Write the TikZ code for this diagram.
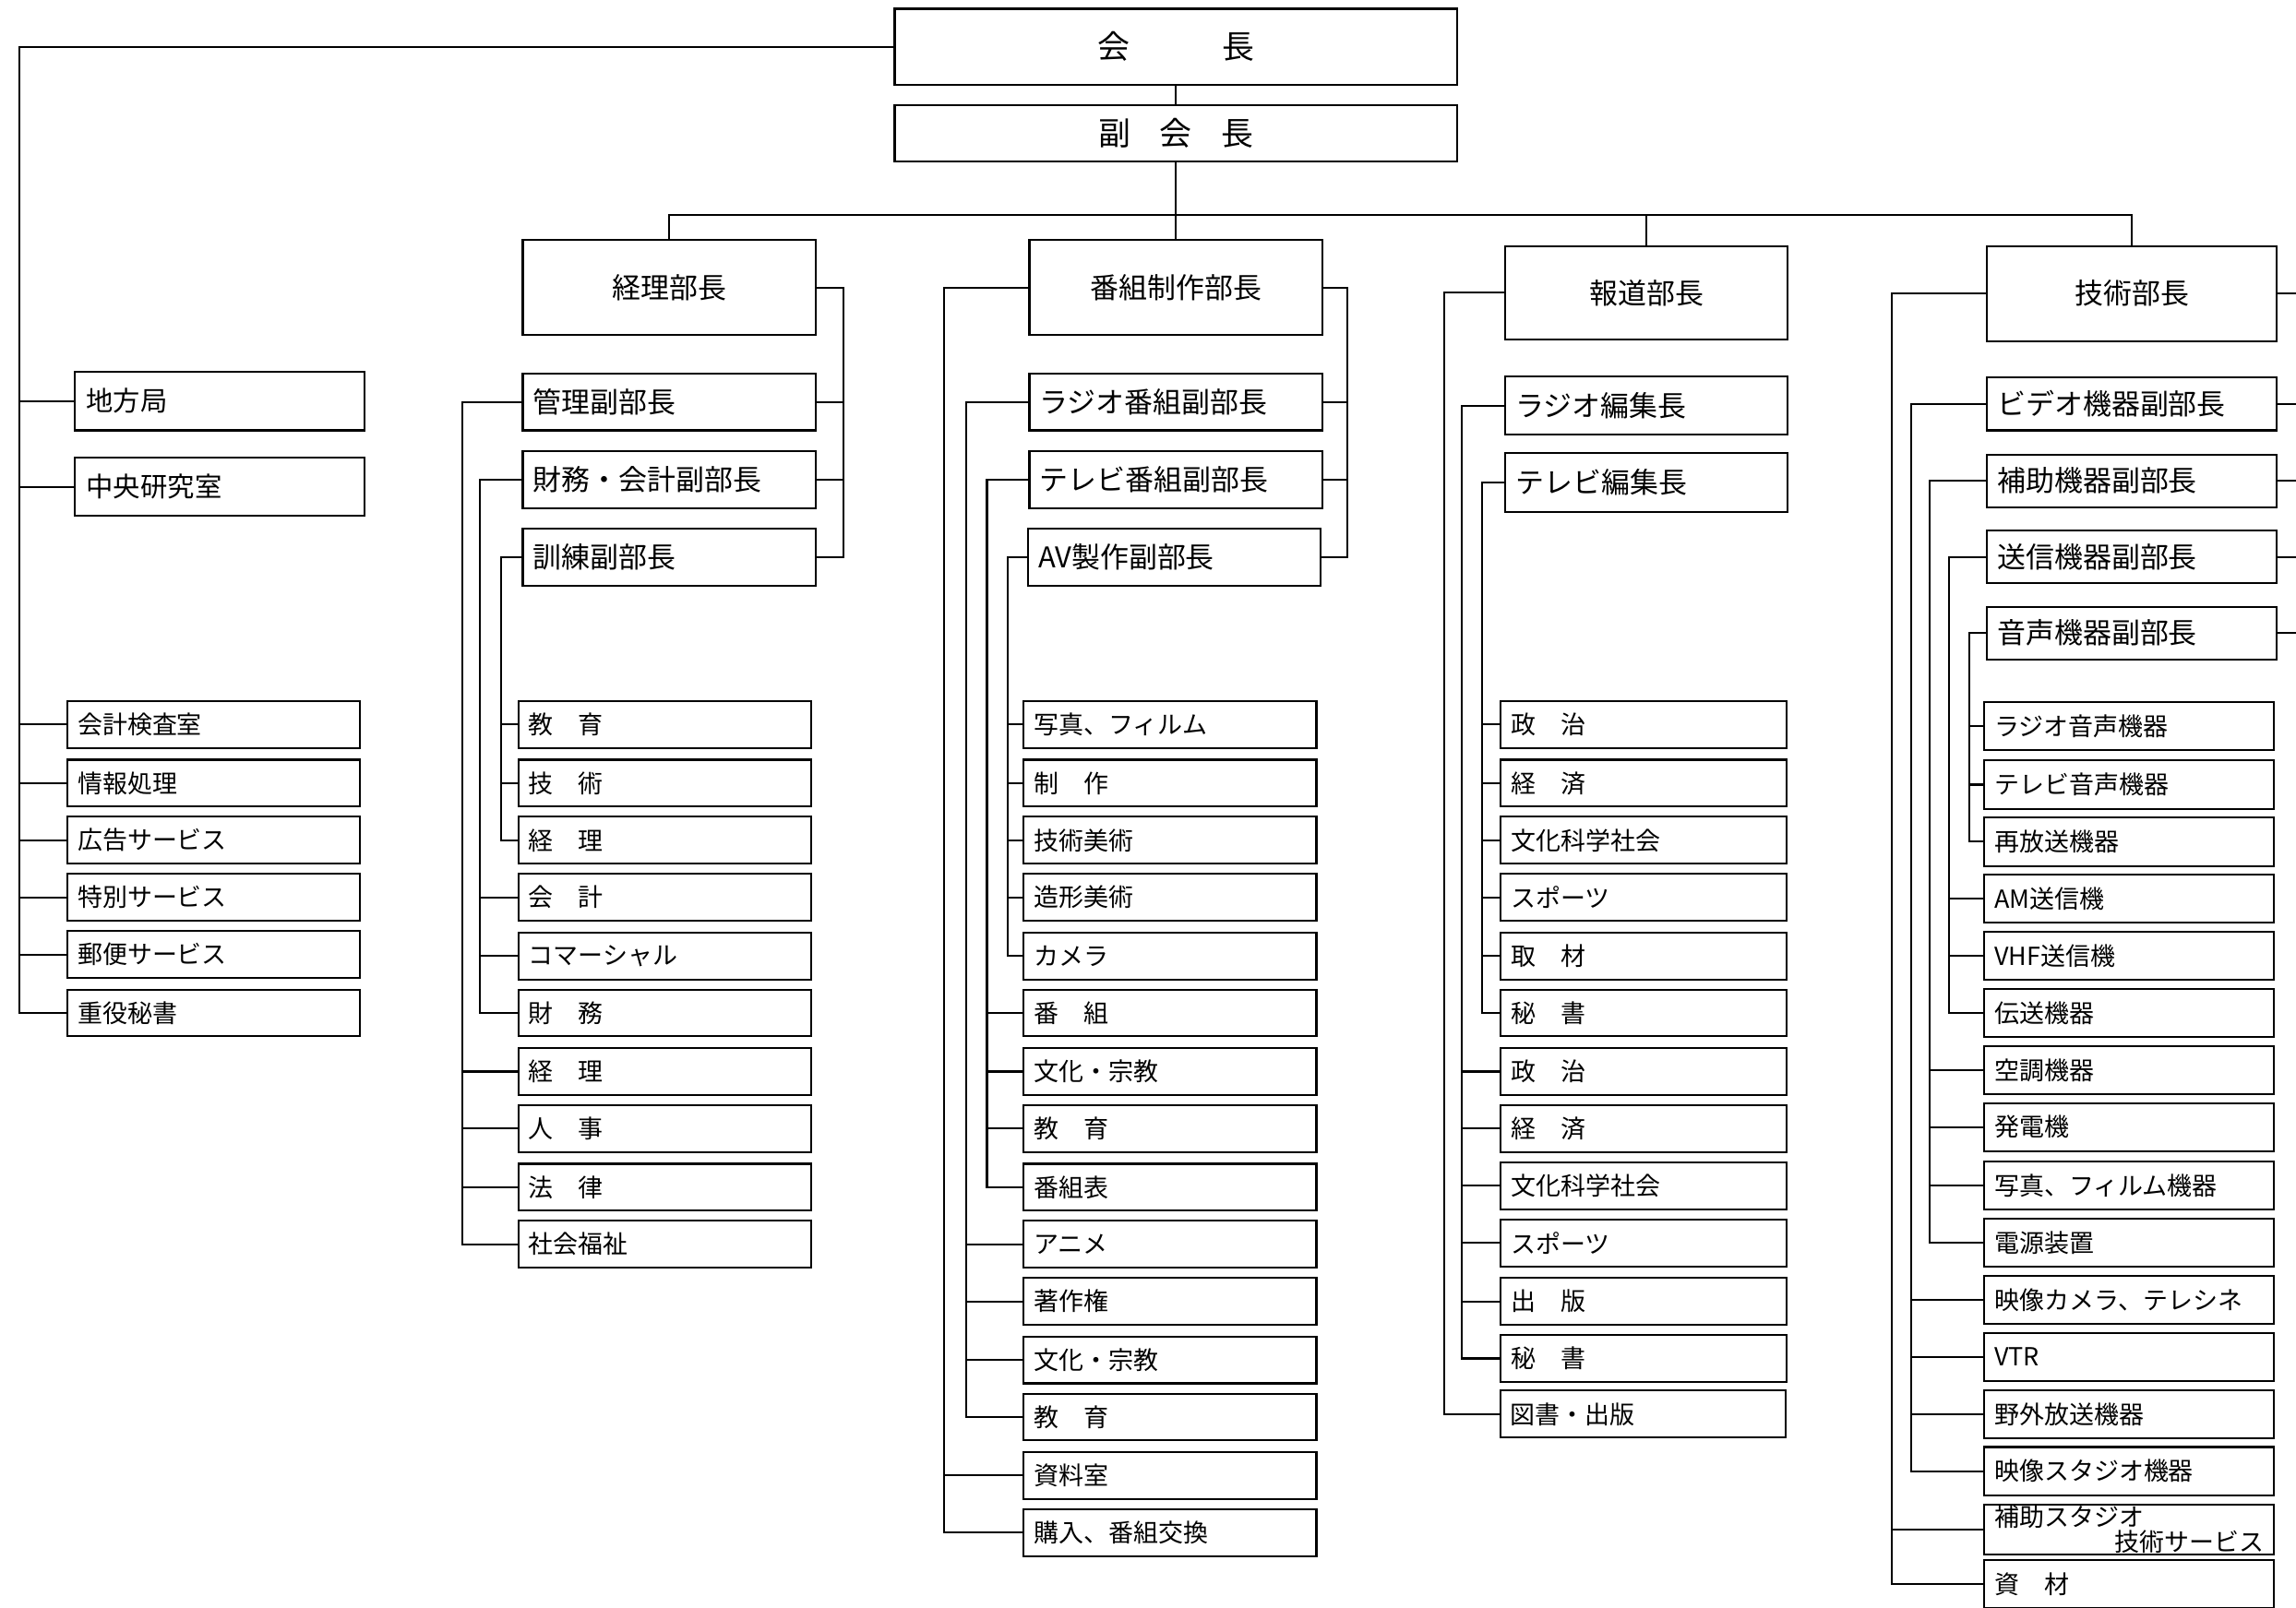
\documentclass[tikz,border=0pt]{standalone}
\usepackage{fontspec}
\setmainfont{Noto Sans CJK JP}
\newcommand{\mybrk}[4]{%
  \draw[ln] (#1.west) -- (#1.west -| #2) -- (#3.west -| #2) -- (#3.west);
  \foreach \c in {#4}{\draw[ln] (\c.west) -- (\c.west -| #2);}
}
\newcommand{\myrbrk}[4]{%
  \draw[ln] (#1.east) -- (#1.east -| #2) -- (#3.east -| #2) -- (#3.east);
  \foreach \c in {#4}{\draw[ln] (\c.east) -- (\c.east -| #2);}
}
\tikzset{
  ln/.style={line width=1.3pt},
  bx/.style={draw, line width=1.3pt, inner ysep=0pt},
  head/.style={bx, minimum width=200pt, minimum height=65pt, font=\fontsize{19.5}{21}\selectfont},
  dep/.style={bx, minimum height=39pt, inner xsep=7pt, text width=186pt, align=left, font=\fontsize{19.5}{21}\selectfont},
  depH/.style={dep, text width=179pt, minimum height=40pt},
  depG/.style={dep, text width=184pt, minimum height=36pt},
  lft/.style={bx, minimum height=40pt, inner xsep=8pt, text width=182pt, align=left, font=\fontsize{18.5}{20}\selectfont},
  sub/.style={bx, minimum height=32pt, inner xsep=7pt, text width=186pt, align=left, font=\fontsize{17}{17}\selectfont},
  subH/.style={sub, text width=181pt},
  subG/.style={sub, text width=184pt, minimum height=33pt}
}
\begin{document}
\begin{tikzpicture}[x=1pt,y=-1pt]
\fill[white] (0,0) rectangle (1568,1098);
\useasboundingbox (0,0) rectangle (1568,1098);
% top
\node[bx, minimum width=384pt, minimum height=52pt, font=\fontsize{22}{24}\selectfont] (kaicho) at (803,32) {会\hspace{63pt}長};
\node[bx, minimum width=384pt, minimum height=38pt, font=\fontsize{22}{24}\selectfont] (fuku) at (803,91) {副\hspace{20pt}会\hspace{20pt}長};
% heads
\node[head] (hK) at (457,196.5) {経理部長};
\node[head] (hB) at (803,196.5) {番組制作部長};
\node[head, minimum width=193pt, minimum height=64pt] (hH) at (1124.5,200) {報道部長};
\node[head, minimum width=198pt] (hG) at (1456,200.5) {技術部長};
% coordinates
\coordinate (busy) at (0,147);
\coordinate (xA) at (13,0);
\coordinate (xK1) at (316,0);
\coordinate (xK2) at (328,0);
\coordinate (xK3) at (342,0);
\coordinate (xKR) at (576,0);
\coordinate (xB0) at (645,0);
\coordinate (xB1) at (660,0);
\coordinate (xB2) at (674,0);
\coordinate (xB3) at (688,0);
\coordinate (xBR) at (920,0);
\coordinate (xH0) at (986,0);
\coordinate (xH1) at (998,0);
\coordinate (xH2) at (1012,0);
\coordinate (xG0) at (1292,0);
\coordinate (xG1) at (1305,0);
\coordinate (xG2) at (1318,0);
\coordinate (xG3) at (1331,0);
\coordinate (xG4) at (1345,0);
\coordinate (edge) at (1568,0);
% left column
\node[lft] (chiho) at (150,274) {地方局};
\node[lft] (chuo) at (150,332.5) {中央研究室};
\node[sub] (a0) at (146,495) {会計検査室};
\node[sub] (a1) at (146,535) {情報処理};
\node[sub] (a2) at (146,574) {広告サービス};
\node[sub] (a3) at (146,613) {特別サービス};
\node[sub] (a4) at (146,652) {郵便サービス};
\node[sub] (a5) at (146,692) {重役秘書};
% keiri
\node[dep] (k1) at (457,274.5) {管理副部長};
\node[dep] (k2) at (457,327.5) {財務・会計副部長};
\node[dep] (k3) at (457,380.5) {訓練副部長};
\node[sub] (kc0) at (454,495) {教　育};
\node[sub] (kc1) at (454,535) {技　術};
\node[sub] (kc2) at (454,574) {経　理};
\node[sub] (kc3) at (454,613) {会　計};
\node[sub] (kc4) at (454,653) {コマーシャル};
\node[sub] (kc5) at (454,692) {財　務};
\node[sub] (kc6) at (454,732) {経　理};
\node[sub] (kc7) at (454,771) {人　事};
\node[sub] (kc8) at (454,811) {法　律};
\node[sub] (kc9) at (454,850) {社会福祉};
% bangumi
\node[dep] (b1) at (803,274.5) {ラジオ番組副部長};
\node[dep] (b2) at (803,327.5) {テレビ番組副部長};
\node[dep] (b3) at (802,380.5) {AV製作副部長};
\node[sub] (bc0) at (799,495) {写真、フィルム};
\node[sub] (bc1) at (799,535) {制　作};
\node[sub] (bc2) at (799,574) {技術美術};
\node[sub] (bc3) at (799,613) {造形美術};
\node[sub] (bc4) at (799,653) {カメラ};
\node[sub] (bc5) at (799,692) {番　組};
\node[sub] (bc6) at (799,732) {文化・宗教};
\node[sub] (bc7) at (799,771) {教　育};
\node[sub] (bc8) at (799,811) {番組表};
\node[sub] (bc9) at (799,850) {アニメ};
\node[sub] (bc10) at (799,889) {著作権};
\node[sub] (bc11) at (799,929) {文化・宗教};
\node[sub] (bc12) at (799,968) {教　育};
\node[sub] (bc13) at (799,1008) {資料室};
\node[sub] (bc14) at (799,1047) {購入、番組交換};
% hodo
\node[depH] (h1) at (1124.5,277) {ラジオ編集長};
\node[depH] (h2) at (1124.5,329.5) {テレビ編集長};
\node[subH] (hc0) at (1122.5,495) {政　治};
\node[subH] (hc1) at (1122.5,535) {経　済};
\node[subH] (hc2) at (1122.5,574) {文化科学社会};
\node[subH] (hc3) at (1122.5,613) {スポーツ};
\node[subH] (hc4) at (1122.5,653) {取　材};
\node[subH] (hc5) at (1122.5,692) {秘　書};
\node[subH] (hc6) at (1122.5,732) {政　治};
\node[subH] (hc7) at (1122.5,771) {経　済};
\node[subH] (hc8) at (1122.5,810) {文化科学社会};
\node[subH] (hc9) at (1122.5,849) {スポーツ};
\node[subH] (hc10) at (1122.5,889) {出　版};
\node[subH] (hc11) at (1122.5,928) {秘　書};
\node[subH] (hc12) at (1122,966) {図書・出版};
% gijutsu
\node[depG] (g1) at (1456,276) {ビデオ機器副部長};
\node[depG] (g2) at (1456,328.5) {補助機器副部長};
\node[depG] (g3) at (1456,380.5) {送信機器副部長};
\node[depG] (g4) at (1456,432.5) {音声機器副部長};
\node[subG] (gc0) at (1454,496) {ラジオ音声機器};
\node[subG] (gc1) at (1454,536) {テレビ音声機器};
\node[subG] (gc2) at (1454,575) {再放送機器};
\node[subG] (gc3) at (1454,614) {AM送信機};
\node[subG] (gc4) at (1454,653) {VHF送信機};
\node[subG] (gc5) at (1454,692) {伝送機器};
\node[subG] (gc6) at (1454,731) {空調機器};
\node[subG] (gc7) at (1454,770) {発電機};
\node[subG] (gc8) at (1454,810) {写真、フィルム機器};
\node[subG] (gc9) at (1454,849) {電源装置};
\node[subG] (gc10) at (1454,888) {映像カメラ、テレシネ};
\node[subG] (gc11) at (1454,927) {VTR};
\node[subG] (gc12) at (1454,966) {野外放送機器};
\node[subG] (gc13) at (1454,1005) {映像スタジオ機器};
\node[subG, minimum height=34pt] (gc14) at (1454,1045) {補助スタジオ\\\hfill 技術サービス};
\node[subG] (gc15) at (1454,1082) {資　材};
% top connectors
\draw[ln] (kaicho.south) -- (fuku.north);
\draw[ln] (fuku.south) -- (hB.north);
\draw[ln] (hK.north) -- (hK.north |- busy) -- (hG.north |- busy) -- (hG.north);
\draw[ln] (hH.north) -- (hH.north |- busy);
% left column
\mybrk{kaicho}{xA}{a5}{chiho,chuo,a0,a1,a2,a3,a4}
% keiri
\myrbrk{hK}{xKR}{k3}{k1,k2}
\mybrk{k1}{xK1}{kc9}{kc6,kc7,kc8}
\mybrk{k2}{xK2}{kc5}{kc3,kc4}
\mybrk{k3}{xK3}{kc2}{kc0,kc1}
% bangumi
\myrbrk{hB}{xBR}{b3}{b1,b2}
\mybrk{hB}{xB0}{bc14}{bc13}
\mybrk{b1}{xB1}{bc12}{bc9,bc10,bc11}
\mybrk{b2}{xB2}{bc8}{bc5,bc6,bc7}
\mybrk{b3}{xB3}{bc4}{bc0,bc1,bc2,bc3}
% hodo
\mybrk{hH}{xH0}{hc12}{}
\mybrk{h1}{xH1}{hc11}{hc6,hc7,hc8,hc9,hc10}
\mybrk{h2}{xH2}{hc5}{hc0,hc1,hc2,hc3,hc4}
% gijutsu
\mybrk{hG}{xG0}{gc15}{gc14}
\mybrk{g1}{xG1}{gc13}{gc10,gc11,gc12}
\mybrk{g2}{xG2}{gc9}{gc6,gc7,gc8}
\mybrk{g3}{xG3}{gc5}{gc3,gc4}
\mybrk{g4}{xG4}{gc2}{gc0,gc1}
\foreach \c in {hG,g1,g2,g3,g4}{\draw[ln] (\c.east) -- (\c.east -| edge);}
\end{tikzpicture}
\end{document}
